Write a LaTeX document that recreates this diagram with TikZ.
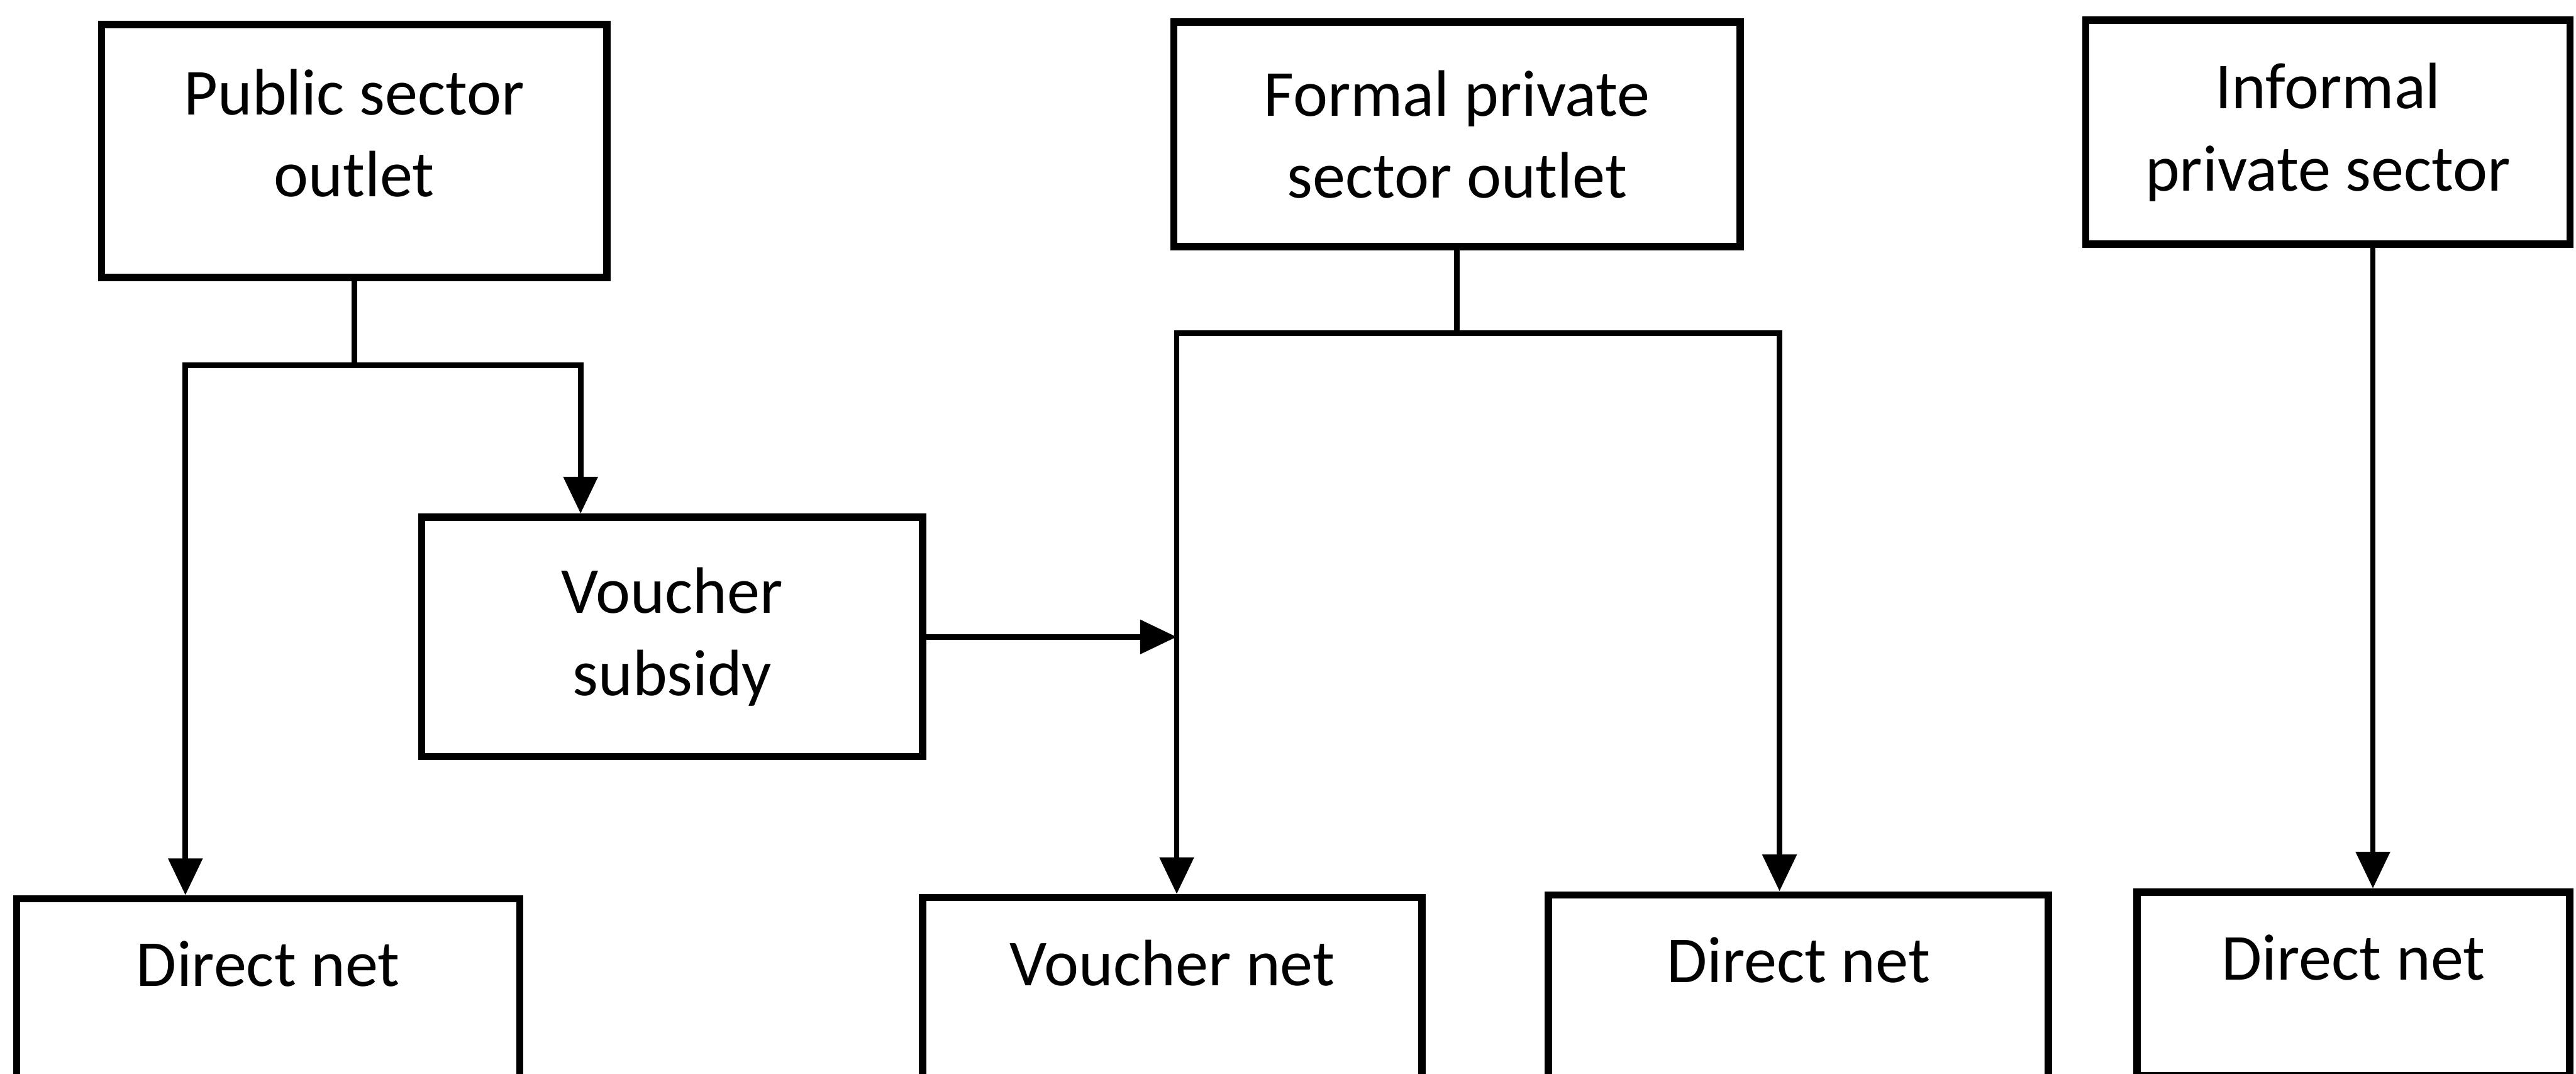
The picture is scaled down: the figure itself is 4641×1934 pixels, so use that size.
\documentclass[tikz,border=0pt]{standalone}
\usepackage{fontspec}
\setmainfont{Carlito}
\usepackage{tikz}
\usetikzlibrary{arrows.meta}
\tikzstyle{blk_t} = [rectangle, draw=black, line width=1.3mm, align=center, inner sep=0pt, font=\fontsize{33.6}{42.1}\selectfont]
\tikzstyle{blk_b} = [rectangle, draw=black, line width=1.3mm, inner sep=0pt, anchor=north, text height=1.58cm, text depth=2cm, font=\fontsize{33.6}{42.1}\selectfont]
\tikzstyle{lnk} = [line width=1mm]

\begin{document}
\begin{tikzpicture}[x=0.01cm, y=-0.01cm, >={Triangle[length=6.6mm,width=6mm]}]
\clip (0,0) rectangle (4641,1934);
% outlets
\node [blk_t, minimum width=9.1cm, minimum height=4.55cm] (pub) at (638,272) {Public sector\\outlet\rule[-6.5mm]{0pt}{6.5mm}};
\node [blk_t, minimum width=10.2cm, minimum height=4.04cm] (formal) at (2625,242) {Formal private\\sector outlet};
\node [blk_t, minimum width=8.72cm, minimum height=4.03cm] (informal) at (4194,238) {Informal\\private sector};
\node [blk_t, minimum width=9.02cm, minimum height=4.31cm] (subsidy) at (1211,1147) {Voucher\\subsidy};
% nets
\node [blk_b, minimum width=9.06cm] (pub_dir) at (483,1612) {Direct net};
\node [blk_b, minimum width=8.99cm] (v_net) at (2112,1610) {Voucher net};
\node [blk_b, minimum width=9cm] (formal_dir) at (3240,1605) {Direct net};
\node [blk_b, minimum width=7.79cm, text depth=1.72cm] (informal_dir) at (4240,1600) {Direct net};

% forks
\coordinate (pub_l) at (334,658);
\coordinate (pub_r) at (1046,658);
\coordinate (form_l) at (2120,600);
\coordinate (form_r) at (3206,600);
\coordinate (inf_d) at ([xshift=0.81cm]informal.south);

\draw [lnk,->] (pub.south) |- (pub_l) -- (pub_l |- pub_dir.north);
\draw [lnk,->] (pub.south) |- (pub_r) -- (pub_r |- subsidy.north);
\draw [lnk,->] (formal.south) |- (form_l) -- (form_l |- v_net.north);
\draw [lnk,->] (formal.south) |- (form_r) -- (form_r |- formal_dir.north);
\draw [lnk,->] (subsidy.east) -- (subsidy.east -| form_l);
\draw [lnk,->] (inf_d) -- (inf_d |- informal_dir.north);
\end{tikzpicture}
\end{document}
